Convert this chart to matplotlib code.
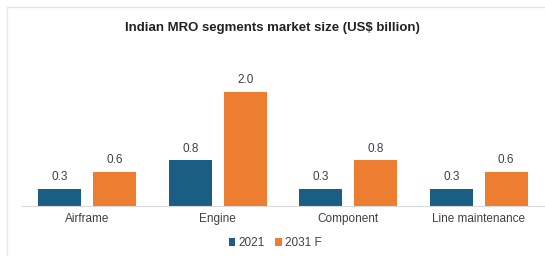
import matplotlib

matplotlib.use("Agg")
import matplotlib.pyplot as plt
import numpy as np
from matplotlib.lines import Line2D

plt.rcParams["font.family"] = ["Liberation Sans", "DejaVu Sans"]

BLUE = "#1B5E84"
ORANGE = "#ED7D31"
TEXT = "#404040"

segments = ["Airframe", "Engine", "Component", "Line maintenance"]
years = ["2021", "2031 F"]
size_2021 = [0.3, 0.8, 0.3, 0.3]
size_2031 = [0.6, 2.0, 0.8, 0.6]

fig = plt.figure(figsize=(5.45, 2.56), dpi=100)

# faint frame lines from the original screenshot
fig.add_artist(Line2D([0.013, 1.0], [0.973, 0.973], color="#e6e6e6", lw=1.0))
fig.add_artist(Line2D([0.013, 0.013], [0.0, 0.973], color="#e6e6e6", lw=1.0))

ax = fig.add_axes([22 / 545, 50 / 256, 522 / 545, 151 / 256])
x = np.arange(len(segments))
w = 0.33
off = 0.21
b1 = ax.bar(x - off, size_2021, w, color=BLUE, label=years[0])
b2 = ax.bar(x + off, size_2031, w, color=ORANGE, label=years[1])
for bars in (b1, b2):
    ax.bar_label(bars, fmt="%.1f", padding=4, fontsize=8.5, color=TEXT)

ax.set_xlim(-0.5, 3.5)
ax.set_ylim(0, 2.65)
ax.set_xticks(x, segments, fontsize=8.5, color=TEXT)
ax.tick_params(axis="x", length=0, pad=5)
ax.set_yticks([])
for s in ("top", "right", "left"):
    ax.spines[s].set_visible(False)
ax.spines["bottom"].set_color("#d9d9d9")

fig.text(0.5, 0.89, "Indian MRO segments market size (US$ billion)",
         ha="center", va="center", fontsize=9.5, fontweight="bold", color="#222222")

fig.legend(loc="center", bbox_to_anchor=(0.505, 0.05), ncol=2, frameon=False,
           fontsize=8.5, handlelength=0.55, handleheight=0.55, handletextpad=0.25,
           columnspacing=0.9, labelcolor=TEXT)

fig.savefig("out.png", dpi=100)
